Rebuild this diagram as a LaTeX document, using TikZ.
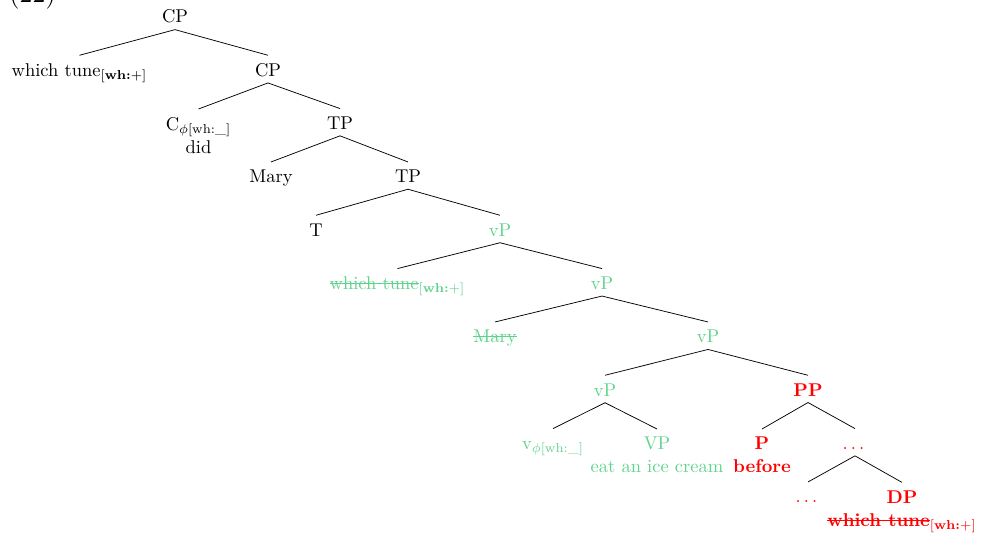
\documentclass[tikz,border=0pt]{standalone}
\usepackage{amsmath}
\definecolor{tgreen}{RGB}{95,211,141}
\definecolor{tred}{RGB}{255,0,0}
\newcommand{\mystrike}[1]{\sbox0{#1}\rlap{\usebox0}\rule[0.68ex]{\wd0}{0.45pt}}
\begin{document}
\begin{tikzpicture}[x=0.5405pt,y=-0.5405pt,
  tn/.style={anchor=base, inner xsep=3.333pt, inner ysep=3.333pt, text height=7.67pt},
  ml/.style={anchor=north, align=center, inner xsep=3.333pt, inner ysep=4.17pt},
  gr/.style={text=tgreen},
  rd/.style={text=tred, font=\bfseries},
  rdn/.style={text=tred},
  br/.style={draw=black, line width=0.4pt}]
\useasboundingbox (0,0) rectangle (982,538);
\node[anchor=base west, font=\Large, inner sep=0pt] (num) at (9,3) {(22)};
% tier 0
\node[tn] (cp1) at (175,22.7) {CP};
% tier 1
\node[tn] (wt1) at (79.5,76) {which tune$_{[\textbf{wh:}+]}$};
\node[tn] (cp2) at (268,76) {CP};
% tier 2
\node[ml] (c) at (198.5,109) {C$_{\phi[\text{wh:\_}]}$\\[0.5pt]did};
\node[tn] (tp1) at (340,129.3) {TP};
% tier 3
\node[tn] (mary1) at (271,182.7) {Mary};
\node[tn] (tp2) at (408,182.7) {TP};
% tier 4
\node[tn] (t) at (316,236) {T};
\node[tn,gr] (vp1) at (500,236) {vP};
% tier 5
\node[tn,gr] (wt2) at (397.5,289.3) {\mystrike{which tune}$_{[\textbf{wh:}+]}$};
\node[tn,gr] (vp2) at (602,289.3) {vP};
% tier 6
\node[tn,gr] (mary2) at (495,342.7) {\mystrike{Mary}};
\node[tn,gr] (vp3) at (708,342.7) {vP};
% tier 7
\node[tn,gr] (vp4) at (605,396) {vP};
\node[tn,rd] (pp) at (808,396) {PP};
% tier 8
\node[tn,gr] (v) at (553,449.3) {v$_{\phi[\text{wh:\_}]}$};
\node[ml,gr] (vpb) at (657,429) {VP\\[0.5pt]eat an ice cream};
\node[ml,rd] (p) at (762,429) {P\\[0.5pt]before};
\node[tn,rdn] (dots1) at (855,449.3) {$\dots$};
% tier 9
\node[tn,rdn] (dots2) at (808,502.7) {$\dots$};
\node[ml,rd] (dp) at (902,482.4) {DP\\[0.5pt]\mystrike{which tune}$_{[\textbf{wh:}\text{\normalfont+}]}$};
% edges
\draw[br] (cp1.south) -- (wt1.north);
\draw[br] (cp1.south) -- (cp2.north);
\draw[br] (cp2.south) -- (c.north);
\draw[br] (cp2.south) -- (tp1.north);
\draw[br] (tp1.south) -- (mary1.north);
\draw[br] (tp1.south) -- (tp2.north);
\draw[br] (tp2.south) -- (t.north);
\draw[br] (tp2.south) -- (vp1.north);
\draw[br] (vp1.south) -- (wt2.north);
\draw[br] (vp1.south) -- (vp2.north);
\draw[br] (vp2.south) -- (mary2.north);
\draw[br] (vp2.south) -- (vp3.north);
\draw[br] (vp3.south) -- (vp4.north);
\draw[br] (vp3.south) -- (pp.north);
\draw[br] (vp4.south) -- (v.north);
\draw[br] (vp4.south) -- (vpb.north);
\draw[br] (pp.south) -- (p.north);
\draw[br] (pp.south) -- (dots1.north);
\draw[br] (dots1.south) -- (dots2.north);
\draw[br] (dots1.south) -- (dp.north);
\end{tikzpicture}
\end{document}
